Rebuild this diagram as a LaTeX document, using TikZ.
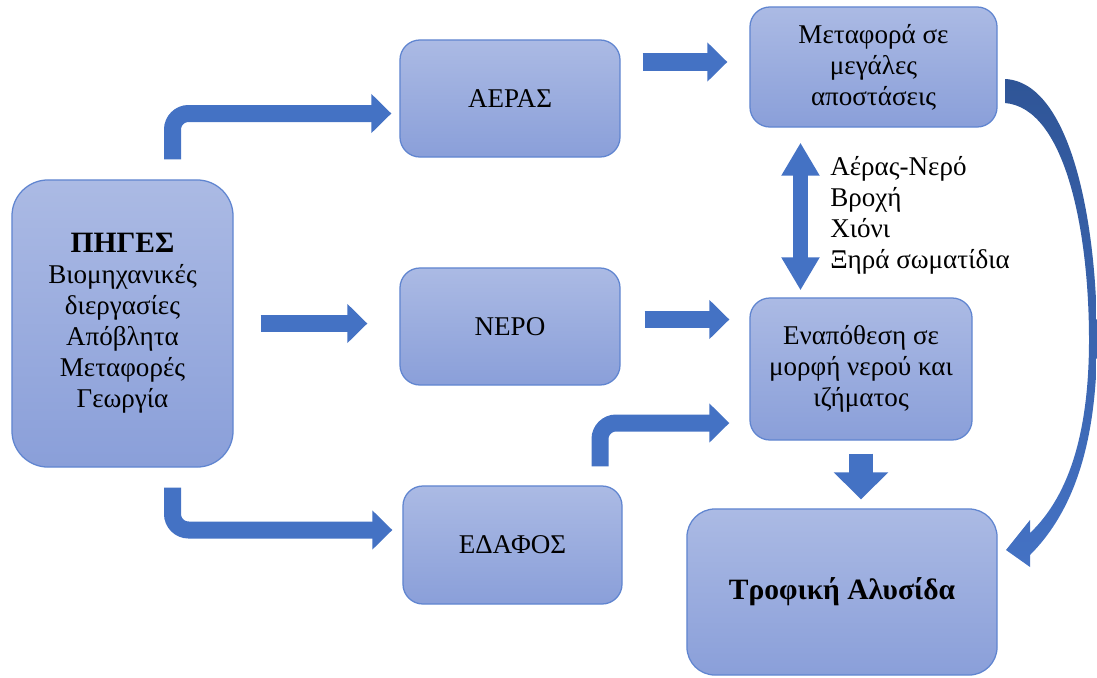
\documentclass[tikz,border=0pt]{standalone}
\usepackage{fontspec}
\setmainfont{Liberation Serif}
\usetikzlibrary{arrows.meta,positioning,calc}
\definecolor{arrowblue}{RGB}{68,114,196}
\definecolor{curvetop}{RGB}{47,85,151}
\definecolor{boxtop}{RGB}{171,186,228}
\definecolor{boxbot}{RGB}{138,159,217}
\definecolor{boxline}{RGB}{96,133,208}
\begin{document}
\begin{tikzpicture}[x=0.025cm,y=-0.025cm]
\tikzstyle{every node}=[font=\fontsize{19.25}{22}\selectfont]
\tikzstyle{box}=[draw=boxline, line width=0.9pt, top color=boxtop, bottom color=boxbot, rounded corners=0.5cm, align=center, inner sep=0pt]
\tikzstyle{flow}=[draw=arrowblue, line width=0.425cm, -{Triangle[length=0.5cm,width=0.95cm]}]
\tikzstyle{fatflow}=[draw=arrowblue, line width=0.6cm, -{Triangle[length=0.675cm,width=1.325cm]}]
\tikzstyle{twoway}=[draw=arrowblue, line width=0.375cm, {Triangle[length=0.825cm,width=0.9cm]}-{Triangle[length=0.825cm,width=0.9cm]}]
\newcommand{\heading}[1]{{\fontsize{21}{22}\selectfont\bfseries #1}}
\useasboundingbox (0,0) rectangle (1097,677);
\node[box, minimum width=5.525cm, minimum height=7.175cm, rounded corners=0.9cm] (pig) at (122.5,323.5) {\heading{ΠΗΓΕΣ}\\Βιομηχανικές\\διεργασίες\\Απόβλητα\\Μεταφορές\\Γεωργία};
\node[box, minimum width=5.5cm, minimum height=2.925cm] (aer) at (510,98.5) {ΑΕΡΑΣ};
\node[box, minimum width=5.5cm, minimum height=2.925cm] (ner) at (510,326.5) {ΝΕΡΟ};
\node[box, minimum width=5.475cm, minimum height=2.95cm] (eda) at (512.5,545) {ΕΔΑΦΟΣ};
\node[box, minimum width=6.175cm, minimum height=3cm] (met) at (873.5,67) {Μεταφορά σε\\μεγάλες\\αποστάσεις};
\node[box, minimum width=5.55cm, minimum height=3.55cm] (ena) at (861,369) {Εναπόθεση σε\\μορφή νερού και\\ιζήματος};
\node[box, minimum width=7.75cm, minimum height=4.15cm, rounded corners=0.7cm] (tro) at (842,592) {\heading{Τροφική Αλυσίδα}};
\node[align=left, anchor=west, inner sep=0pt] (media) at (830,215) {Αέρας-Νερό\\Βροχή\\Χιόνι\\Ξηρά σωματίδια};
\draw[flow, rounded corners=0.4cm] ([xshift=1.25cm,yshift=0.5cm]pig.north) |- ([xshift=-0.2cm,yshift=-0.375cm]aer.west);
\draw[flow, shorten <=0.675cm, shorten >=0.8cm] (pig.east) -- (pig.east -| ner.west);
\draw[flow, rounded corners=0.4cm] ([xshift=1.25cm,yshift=-0.5cm]pig.south) |- ([xshift=-0.25cm,yshift=0.375cm]eda.west);
\draw[flow, shorten <=0.55cm, shorten >=0.55cm] ([yshift=0.125cm]aer.east |- met.west) -- ([yshift=0.125cm]met.west);
\draw[flow, shorten <=0.6cm, shorten >=0.5cm] ([yshift=0.175cm]ner.east) -- ([yshift=0.175cm]ner.east -| ena.west);
\draw[flow, rounded corners=0.4cm] ([xshift=2.1875cm,yshift=0.475cm]eda.north) |- ([xshift=-0.5cm,yshift=-1.35cm]ena.west);
\draw[fatflow, shorten <=0.325cm, shorten >=0.225cm] (ena.south) -- (ena.south |- tro.north);
\draw[twoway, shorten <=0.375cm, shorten >=0.175cm] ([xshift=-1.825cm]met.south) -- ([xshift=-1.825cm]met.south |- ena.north);
\shade[top color=curvetop, bottom color=arrowblue] (1005,79) .. controls (1070,82) and (1097,220) .. (1097,340) .. controls (1097,440) and (1075,510) .. (1030,555) -- (1030,567) -- (1006,550) -- (1030,520) -- (1030,533) .. controls (1070,495) and (1089,430) .. (1089,340) .. controls (1089,230) and (1065,108) .. (1005,103) -- cycle;
\end{tikzpicture}
\end{document}
